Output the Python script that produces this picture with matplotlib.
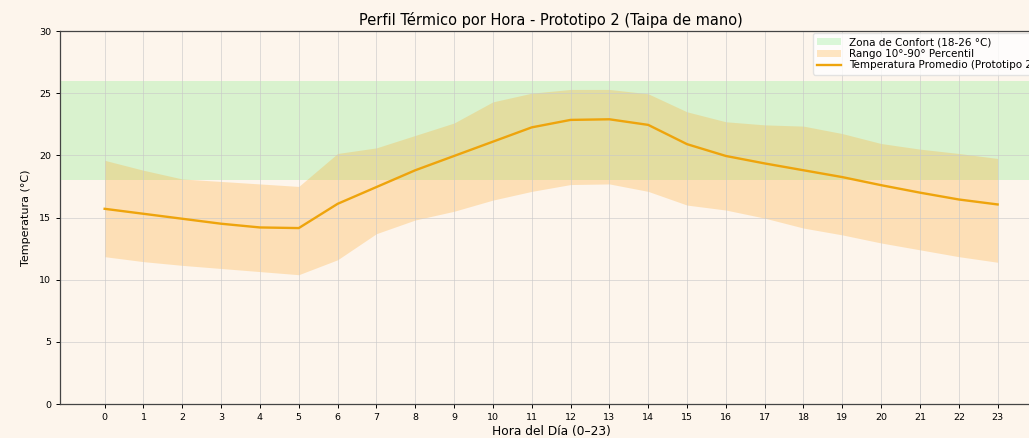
import numpy as np
import matplotlib.pyplot as plt

# perfil horario del prototipo 2
horas = np.arange(24)
temp_media = [15.7, 15.3, 14.9, 14.5, 14.2, 14.15, 16.1, 17.45, 18.8, 19.95, 21.1, 22.25,
              22.85, 22.9, 22.45, 20.9, 19.95, 19.35, 18.8, 18.25, 17.6, 17.0, 16.45, 16.05]
p90 = [19.6, 18.8, 18.1, 17.9, 17.7, 17.5, 20.15, 20.6, 21.6, 22.6, 24.3, 25.0,
       25.3, 25.3, 24.95, 23.5, 22.7, 22.45, 22.35, 21.75, 20.95, 20.5, 20.15, 19.75]
p10 = [11.85, 11.45, 11.15, 10.9, 10.65, 10.4, 11.6, 13.7, 14.8, 15.5, 16.4, 17.1,
       17.65, 17.7, 17.1, 16.0, 15.6, 14.95, 14.15, 13.6, 12.95, 12.4, 11.85, 11.4]
confort = (18, 26)

fondo = '#fdf5ec'
fig = plt.figure(figsize=(10.29, 4.38), dpi=100, facecolor=fondo)
ax = fig.add_axes([0.0583, 0.0776, 0.9546, 0.8516], facecolor=fondo)

ax.axhspan(confort[0], confort[1], color='#90ee90', alpha=0.32, lw=0,
           label='Zona de Confort (18-26 °C)')
ax.fill_between(horas, p10, p90, color='#ffa726', alpha=0.27, lw=0,
                label='Rango 10°-90° Percentil')
ax.plot(horas, temp_media, color='#eea40c', lw=1.7,
        label='Temperatura Promedio (Prototipo 2)')

ax.set_ylim(0, 30)
ax.set_xticks(horas)
ax.set_yticks(range(0, 31, 5))
ax.tick_params(labelsize=6.8, length=3, width=0.7)
ax.grid(True, color='#c8c8c8', lw=0.7, alpha=0.6)
for s in ax.spines.values():
    s.set_linewidth(0.9)
    s.set_color('#444444')

ax.set_title('Perfil Térmico por Hora - Prototipo 2 (Taipa de mano)', fontsize=10.5, pad=4)
ax.set_xlabel('Hora del Día (0–23)', fontsize=8.8, labelpad=2)
ax.set_ylabel('Temperatura (°C)', fontsize=8, labelpad=6)
ax.legend(loc='upper right', fontsize=7.5, frameon=True, facecolor='white',
          framealpha=0.8, edgecolor='#dddddd', labelspacing=0.15,
          borderaxespad=0.2, handlelength=2.3)

fig.savefig('out.png', dpi=100, facecolor=fondo)
